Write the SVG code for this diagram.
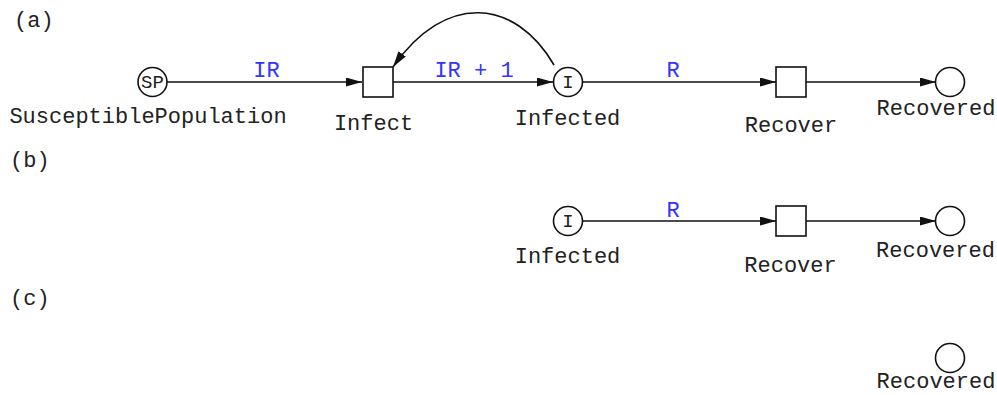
<svg xmlns="http://www.w3.org/2000/svg" width="997" height="395" viewBox="0 0 997 395">
<style>
.t{font-family:"Liberation Mono","Courier New",monospace;font-size:22px;fill:#222}
.s{font-family:"Liberation Mono","Courier New",monospace;font-size:19px;fill:#222;text-anchor:middle}
.l{font-family:"Liberation Mono","Courier New",monospace;font-size:22px;fill:#3333ff}
.m{text-anchor:middle}
.p{fill:#fff;stroke:#111;stroke-width:1.6}
.e{fill:none;stroke:#111;stroke-width:1.6}
</style>
<defs>
<marker id="ah" markerUnits="userSpaceOnUse" markerWidth="17" markerHeight="10" refX="16" refY="4.5" orient="auto">
<path d="M0,0 L16,4.5 L0,9 z" fill="#111"/>
</marker>
</defs>
<rect width="997" height="395" fill="#fff"/>
<text class="t" x="14" y="27">(a)</text>
<text class="t" x="10" y="167">(b)</text>
<text class="t" x="10" y="305">(c)</text>
<g id="connectors">
<path class="e" d="M167,82 H362" marker-end="url(#ah)"/>
<path class="e" d="M393,82 H553" marker-end="url(#ah)"/>
<path class="e" d="M554,65 C515,-2 445,-8 393,67" marker-end="url(#ah)"/>
<path class="e" d="M582,82 H776" marker-end="url(#ah)"/>
<path class="e" d="M806,82 H936" marker-end="url(#ah)"/>
<path class="e" d="M582,221 H776" marker-end="url(#ah)"/>
<path class="e" d="M806,221 H936" marker-end="url(#ah)"/>
<text class="l m" x="266.5" y="77">IR</text>
<text class="l m" x="474" y="77">IR + 1</text>
<text class="l m" x="673" y="77">R</text>
<text class="l m" x="673" y="217">R</text>
</g>
<g id="a-sp">
<circle class="p" cx="152.5" cy="82" r="14.5"/>
<text class="s" x="152.5" y="88">SP</text>
<text class="t m" x="148" y="123">SusceptiblePopulation</text>
</g>
<g id="a-infect">
<rect class="p" x="363" y="67" width="30" height="30"/>
<text class="t m" x="373.5" y="130">Infect</text>
</g>
<g id="a-infected">
<circle class="p" cx="568" cy="82" r="14.5"/>
<text class="s" x="568" y="88">I</text>
<text class="t m" x="567.5" y="125">Infected</text>
</g>
<g id="a-recover">
<rect class="p" x="776" y="67" width="30" height="30"/>
<text class="t m" x="791" y="132">Recover</text>
</g>
<g id="a-recovered">
<circle class="p" cx="950" cy="82" r="14.5"/>
<text class="t m" x="936" y="115">Recovered</text>
</g>
<g id="b-infected">
<circle class="p" cx="568" cy="221" r="14.5"/>
<text class="s" x="568" y="227">I</text>
<text class="t m" x="567.5" y="263">Infected</text>
</g>
<g id="b-recover">
<rect class="p" x="776" y="206" width="30" height="30"/>
<text class="t m" x="790.5" y="272">Recover</text>
</g>
<g id="b-recovered">
<circle class="p" cx="950" cy="221" r="14.5"/>
<text class="t m" x="935.5" y="257">Recovered</text>
</g>
<g id="c-recovered">
<circle class="p" cx="950" cy="358" r="14.5"/>
<text class="t m" x="936" y="388">Recovered</text>
</g>
</svg>
